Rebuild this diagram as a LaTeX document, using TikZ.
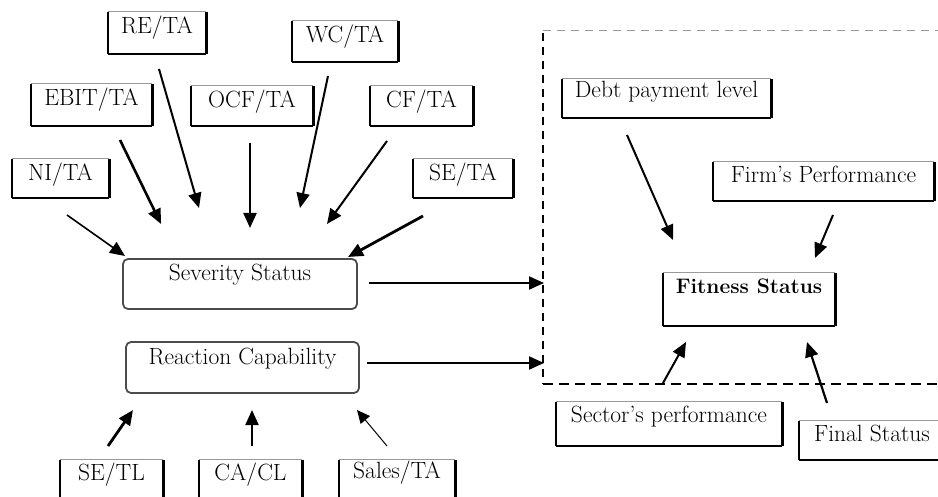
\documentclass[tikz,border=0pt]{standalone}
\usepackage{fontspec}
\usetikzlibrary{arrows.meta,fit}
\tikzset{
  lbl/.style={inner sep=0pt, font=\fontsize{23.5}{28}\selectfont\addfontfeature{LetterSpace=5}},
  boldlbl/.style={inner sep=0pt, font=\fontsize{21}{25}\selectfont\bfseries},
  arr/.style={line width=2pt, -{Triangle[length=15pt,width=13pt]}},
  rbox/.style={draw=black!70, line width=1.8pt, rounded corners=5pt, inner sep=0pt},
}
\newcommand\frbox[7]{%
  \node[inner sep=0pt, fit={(#2,#3)(#4,#5)}] (#1) {};
  \draw[line width=0.8pt, draw=black!40] (#1.north west) -- (#1.north east);
  \draw[line width=1.6pt] (#1.south west) -- (#1.south east);
  \draw[line width=2.6pt] (#1.north west) -- (#1.south west);
  \draw[line width=2.6pt] (#1.north east) -- (#1.south east);
  \node[lbl, anchor=north] (#1-t) at ([yshift=-#6pt]#1.north) {#7};
}
\begin{document}
\begin{tikzpicture}[x=1pt,y=-1pt]
\useasboundingbox (0,0) rectangle (938,497);

% left top boxes
\frbox{re}{108}{12}{206}{54}{4}{RE/TA}
\frbox{wc}{292}{21}{398}{62}{4}{WC/TA}
\frbox{ebit}{31}{84}{152}{126}{4}{EBIT/TA}
\frbox{ocf}{191}{86}{313}{126}{4}{OCF/TA}
\frbox{cf}{370}{86}{473}{126}{4}{CF/TA}
\frbox{ni}{12}{159}{109}{198}{4}{NI/TA}
\frbox{seta}{413}{159}{513}{198}{4}{SE/TA}

% bottom boxes
\frbox{setl}{60}{460}{163}{510}{3}{SE/TL}
\frbox{cacl}{199}{460}{302}{510}{3}{CA/CL}
\frbox{sales}{339}{460}{455}{510}{1}{Sales/TA}

% rounded boxes
\node[rbox, fit={(123,259)(357,309)}] (sev) {};
\node[lbl, anchor=north] (sev-t) at ([yshift=-6pt]sev.north) {Severity Status};
\node[rbox, fit={(126,342)(359,393)}] (rea) {};
\node[lbl, anchor=north] (rea-t) at ([yshift=-7pt]rea.north) {Reaction Capability};

% right boxes
\frbox{debt}{562}{79}{771}{118}{2}{Debt payment level}
\frbox{firm}{713}{162}{934}{201}{4}{Firm's Performance}
\frbox{fit}{663}{273}{835}{326}{5}{}
\node[boldlbl, anchor=north] (fit-b) at ([yshift=-6pt]fit.north) {Fitness Status};
\frbox{sect}{556}{402}{782}{446}{4}{Sector's performance}
\frbox{final}{799}{421}{945}{460}{4}{Final Status}

% dashed frame
\coordinate (dtl) at (543,33);
\coordinate (dbl) at (543,384);
\coordinate (dbr) at (940,384);
\coordinate (dtt) at (543,30);
\coordinate (dtr) at (940,30);
\draw[line width=2.2pt, dash pattern=on 8pt off 6pt] (dtl) -- (dbl);
\draw[line width=2.2pt, dash pattern=on 10pt off 6pt] (dbl) -- (dbr);
\draw[line width=0.8pt, draw=black!40, dash pattern=on 8pt off 6pt] (dtt) -- (dtr);

% arrow coordinates
\coordinate (a1s) at (67,215);   \coordinate (a1e) at (125,256);
\coordinate (a2s) at (120,140);  \coordinate (a2e) at (161,224);
\coordinate (a3s) at (159,69);   \coordinate (a3e) at (199,208);
\coordinate (a4s) at (250,143);  \coordinate (a4e) at (250,228);
\coordinate (a5s) at (328,76);   \coordinate (a5e) at (300,208);
\coordinate (a6s) at (387,141);  \coordinate (a6e) at (327,224);
\coordinate (a7s) at (423,216);  \coordinate (a7e) at (348,257);
\coordinate (b1s) at (108,446);  \coordinate (b1e) at (133,410);
\coordinate (b2s) at (252,446);  \coordinate (b2e) at (252,410);
\coordinate (b3s) at (387,446);  \coordinate (b3e) at (357,410);
\coordinate (c1s) at (369,283);  \coordinate (c1e) at (544,283);
\coordinate (c2s) at (367,363);  \coordinate (c2e) at (544,363);
\coordinate (d1s) at (627,135);  \coordinate (d1e) at (673,240);
\coordinate (d2s) at (833,215);  \coordinate (d2e) at (815,258);
\coordinate (d3s) at (663,383);  \coordinate (d3e) at (686,342);
\coordinate (d4s) at (827,403);  \coordinate (d4e) at (807,342);

\draw[arr, line width=1.6pt] (a1s) -- (a1e);
\draw[arr, line width=2.6pt] (a2s) -- (a2e);
\draw[arr] (a3s) -- (a3e);
\draw[arr, line width=2.2pt] (a4s) -- (a4e);
\draw[arr] (a5s) -- (a5e);
\draw[arr] (a6s) -- (a6e);
\draw[arr, line width=2.8pt] (a7s) -- (a7e);
\draw[arr, line width=2.8pt] (b1s) -- (b1e);
\draw[arr, line width=2.2pt] (b2s) -- (b2e);
\draw[arr, line width=1pt, -{Triangle[length=13pt,width=12pt]}] (b3s) -- (b3e);
\draw[arr] (c1s) -- (c1e);
\draw[arr] (c2s) -- (c2e);
\draw[arr] (d1s) -- (d1e);
\draw[arr] (d2s) -- (d2e);
\draw[arr] (d3s) -- (d3e);
\draw[arr, line width=2.2pt] (d4s) -- (d4e);
\end{tikzpicture}
\end{document}
